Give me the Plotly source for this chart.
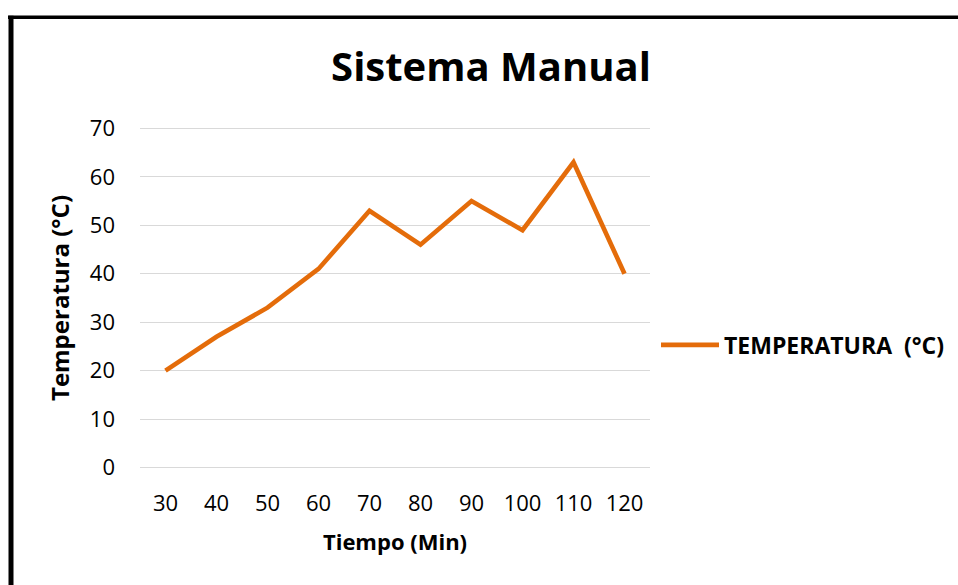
import plotly.graph_objects as go

tiempo = ["30", "40", "50", "60", "70", "80", "90", "100", "110", "120"]
temperatura = [20, 27, 33, 41, 53, 46, 55, 49, 63, 40]
y_ticks = [0, 10, 20, 30, 40, 50, 60, 70]

FONT = "Open Sans"
ORANGE = "#E46C0A"
W, H = 958, 585
UNIT = 340 / 70          # px per degree
PAD = 0.5 * UNIT         # y-range padding so edge gridlines show
L, R, T, B = 140, 308, 128 - PAD, 117 - PAD
PW, PH = W - L - R, H - T - B


def px_x(x):
    return (x - L) / PW


def px_y(y):
    return (H - B - y) / PH


fig = go.Figure()
fig.add_trace(go.Scatter(
    x=tiempo, y=temperatura, mode="lines",
    name="TEMPERATURA  (°C)",
    line=dict(color=ORANGE, width=4.6),
))

fig.update_layout(
    width=W, height=H,
    margin=dict(l=L, r=R, t=T, b=B, autoexpand=False),
    paper_bgcolor="white", plot_bgcolor="white",
    font=dict(family=FONT, color="#000000", size=22),
    title=dict(text="<b>Sistema Manual</b>", x=(332 + 650) / 2 / W, xanchor="center",
               y=1 - 67 / H, yanchor="middle",
               font=dict(family=FONT, size=40, color="#000000")),
    showlegend=True,
    legend=dict(x=px_x(656), xanchor="left", y=px_y(345), yanchor="middle",
                font=dict(family=FONT, size=23, color="#000000", weight="bold"),
                itemwidth=58, bgcolor="rgba(0,0,0,0)"),
    xaxis=dict(type="category", range=[-0.5, 9.5], showgrid=False, showline=False,
               zeroline=False, ticks="", ticklabelstandoff=18,
               tickfont=dict(family=FONT, size=22),
               title=dict(text="<b>Tiempo (Min)</b>", standoff=18,
                          font=dict(family=FONT, size=22))),
    yaxis=dict(range=[-0.5, 70.5], tickvals=y_ticks, showgrid=True, gridcolor="#D9D9D9",
               gridwidth=1.3, zeroline=False, showline=False, ticks="",
               ticklabelstandoff=24, tickfont=dict(family=FONT, size=22),
               title=dict(text="<b>Temperatura (°C)</b>", standoff=13,
                          font=dict(family=FONT, size=24))),
    shapes=[
        dict(type="line", xref="paper", yref="paper",
             x0=px_x(11), x1=px_x(11), y0=px_y(15), y1=px_y(600),
             line=dict(color="black", width=5)),
        dict(type="line", xref="paper", yref="paper",
             x0=px_x(8), x1=px_x(960), y0=px_y(16.5), y1=px_y(16.5),
             line=dict(color="black", width=3.5)),
    ],
)

fig.write_html("out.html", config={"displayModeBar": False},
               post_script="document.body.style.margin='0';")
